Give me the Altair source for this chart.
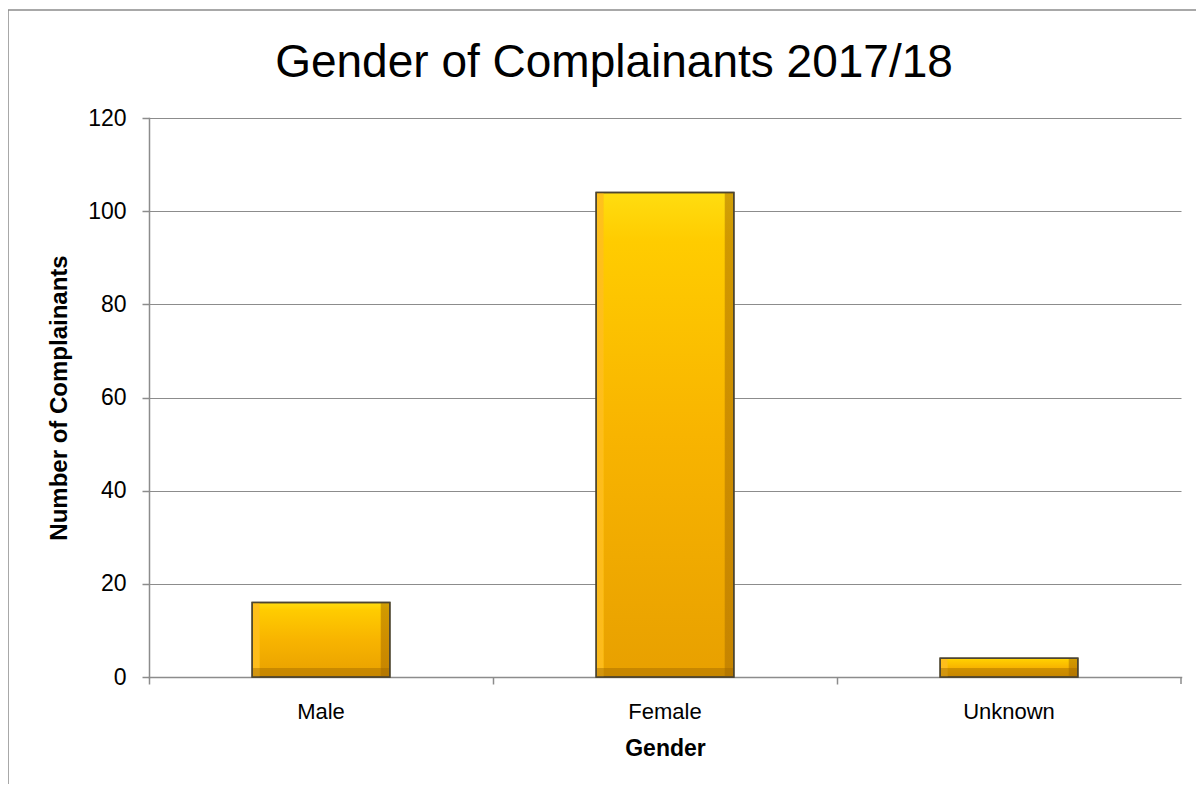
import altair as alt
import pandas as pd

genders = ["Male", "Female", "Unknown"]
counts = [16, 104, 4]
y_ticks = [0, 20, 40, 60, 80, 100, 120]

df = pd.DataFrame({"Gender": genders, "Count": counts})

W, H = 1032, 559
FONT = "Liberation Sans"

x_enc = alt.X(
    "Gender:N",
    sort=genders,
    scale=alt.Scale(paddingInner=0.6, paddingOuter=0.3),
    axis=alt.Axis(
        title="Gender",
        titleFont=FONT, titleFontSize=23, titleFontWeight="bold", titleColor="#000",
        titlePadding=15,
        labelFont=FONT, labelFontSize=22, labelColor="#000", labelPadding=17,
        labelAngle=0,
        domainColor="#8c8c8c", domainWidth=1.5,
        tickColor="#8c8c8c", tickWidth=1.5, tickSize=7,
        bandPosition=-0.75,
        grid=False,
    ),
)
y_enc = alt.Y(
    "Count:Q",
    scale=alt.Scale(domain=[0, 120], nice=False),
    axis=alt.Axis(
        title="Number of Complainants",
        values=y_ticks,
        titleFont=FONT, titleFontSize=24, titleFontWeight="bold", titleColor="#000",
        titlePadding=16,
        labelFont=FONT, labelFontSize=23, labelColor="#000", labelPadding=16,
        domainColor="#8c8c8c", domainWidth=1.5,
        tickColor="#8c8c8c", tickWidth=1.5, tickSize=7,
        gridColor="#8c8c8c", gridWidth=1,
    ),
)

base = alt.Chart(df)

bars = base.mark_bar(
    color=alt.Gradient(
        gradient="linear", x1=0, y1=0, x2=0, y2=1,
        stops=[
            alt.GradientStop(color="#FFDD10", offset=0),
            alt.GradientStop(color="#FFCC00", offset=0.1),
            alt.GradientStop(color="#F8B400", offset=0.5),
            alt.GradientStop(color="#E8A000", offset=1),
        ],
    ),
    stroke="#4d4530", strokeWidth=1.5,
).encode(x=x_enc, y=y_enc)

edges = base.mark_bar(
    color=alt.Gradient(
        gradient="linear", x1=0, y1=0, x2=1, y2=0,
        stops=[
            alt.GradientStop(color="rgba(255,190,30,0.9)", offset=0),
            alt.GradientStop(color="rgba(255,190,30,0.9)", offset=0.05),
            alt.GradientStop(color="rgba(255,200,0,0)", offset=0.06),
            alt.GradientStop(color="rgba(150,100,0,0)", offset=0.93),
            alt.GradientStop(color="rgba(170,110,0,0.55)", offset=0.94),
            alt.GradientStop(color="rgba(170,110,0,0.55)", offset=1),
        ],
    ),
).encode(x=alt.X("Gender:N", sort=genders), y="Count:Q")

bottom = base.mark_bar(
    color="rgba(160,105,0,0.45)", yOffset=-9,
).encode(x=alt.X("Gender:N", sort=genders), y=alt.datum(0), y2=alt.datum(0))

outline = base.mark_bar(
    filled=False, stroke="#4d4530", strokeWidth=1.5,
).encode(x=alt.X("Gender:N", sort=genders), y="Count:Q")

last_tick = alt.Chart(pd.DataFrame({"a": [0]})).mark_rule(
    color="#8c8c8c", strokeWidth=1.5
).encode(x=alt.value(W), y=alt.value(H), y2=alt.value(H + 7))

border = alt.Chart(pd.DataFrame({"a": [0]})).mark_rect(
    filled=False, stroke="#8c8c8c", strokeWidth=1.5
).encode(x=alt.value(-141), x2=alt.value(W + 40), y=alt.value(-108), y2=alt.value(H + 140))

chart = alt.layer(border, bars, edges, bottom, outline, last_tick).properties(
    width=W, height=H,
    title=alt.TitleParams(
        "Gender of Complainants 2017/18",
        font=FONT, fontSize=46, fontWeight="normal", color="#000",
        anchor="middle", frame="group", dx=-51, offset=-114, baseline="alphabetic",
    ),
    autosize=alt.AutoSizeParams(type="none"),
    padding={"left": 141, "top": 110, "right": 15, "bottom": 107},
).configure_view(stroke=None).configure_axis(domainCap="square")

chart.save("out.html", embed_options={"renderer": "svg", "actions": False})
